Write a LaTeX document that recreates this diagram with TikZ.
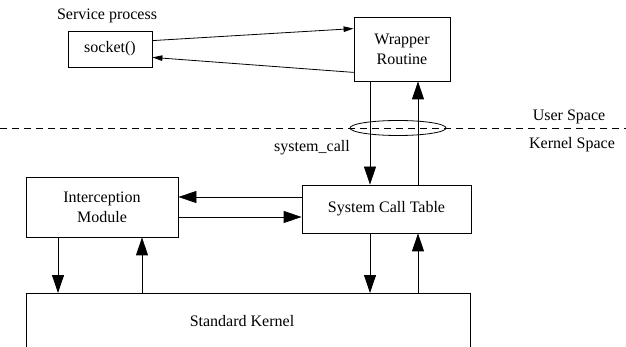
\documentclass[tikz,border=0pt]{standalone}
\usepackage{fontspec}
\setmainfont{Liberation Serif}
\usetikzlibrary{arrows.meta}
\begin{document}
\begin{tikzpicture}[x=1pt,y=-1pt,
  every node/.style={font=\fontsize{16}{20}\selectfont},
  box/.style={draw, line width=0.8pt, inner sep=0pt, align=center},
  conn/.style={line width=0.8pt},
  big/.style={conn,-{Triangle[length=18pt,width=12pt]}},
  small/.style={conn,-{Triangle[length=10pt,width=5.5pt]}}]
\useasboundingbox (0,0) rectangle (626,347);
\node (svc) at (107,16) {Service process};
\node[box, minimum width=84pt, minimum height=36pt] (sock) at (110,49) {socket()};
\node[box, minimum width=96pt, minimum height=64pt] (wrap) at (402,49) {Wrapper\\Routine};
\node[box, minimum width=169pt, minimum height=48pt] (sct) at (386.5,209) {System Call Table};
\node[box, minimum width=152pt, minimum height=60pt] (im) at (102,207) {Interception\\Module};
\node[inner sep=0pt, minimum width=444pt, minimum height=60pt, anchor=north west] (kernel) at (26,293) {};
\draw[line width=0.8pt] (kernel.north west) ++(0,60) -- (kernel.north west) -- (kernel.north east) -- ++(0,60);
\node (ktext) at (242,321) {Standard Kernel};
% user/kernel boundary
\draw[line width=0.7pt, dash pattern=on 7pt off 5pt] (0,128) -- (626,128);
\draw[line width=0.8pt] (398,128) ellipse [x radius=48, y radius=7.5];
\node (us) at (569,117) {User Space};
\node (ks) at (572,145) {Kernel Space};
\node (sc) at (312,148) {system\_call};
% socket <-> wrapper
\draw[small] ([yshift=-10pt]sock.north east) -- ([yshift=-12pt]wrap.north west);
\draw[small] ([yshift=9pt]wrap.south west) -- ([yshift=10pt]sock.south east);
% wrapper <-> sct
\draw[big] (wrap.south -| 370,0) -- (sct.north -| 370,0);
\draw[big] (sct.north -| 418,0) -- (wrap.south -| 418,0);
% sct <-> im
\draw[big] (sct.west |- 0,197) -- (im.east |- 0,197);
\draw[big] (im.east |- 0,217) -- (sct.west |- 0,217);
% to kernel
\draw[big] (im.south -| 58,0) -- (kernel.north -| 58,0);
\draw[big] (kernel.north -| 142,0) -- (im.south -| 142,0);
\draw[big] (sct.south -| 370,0) -- (kernel.north -| 370,0);
\draw[big] (kernel.north -| 418,0) -- (sct.south -| 418,0);
\end{tikzpicture}
\end{document}
